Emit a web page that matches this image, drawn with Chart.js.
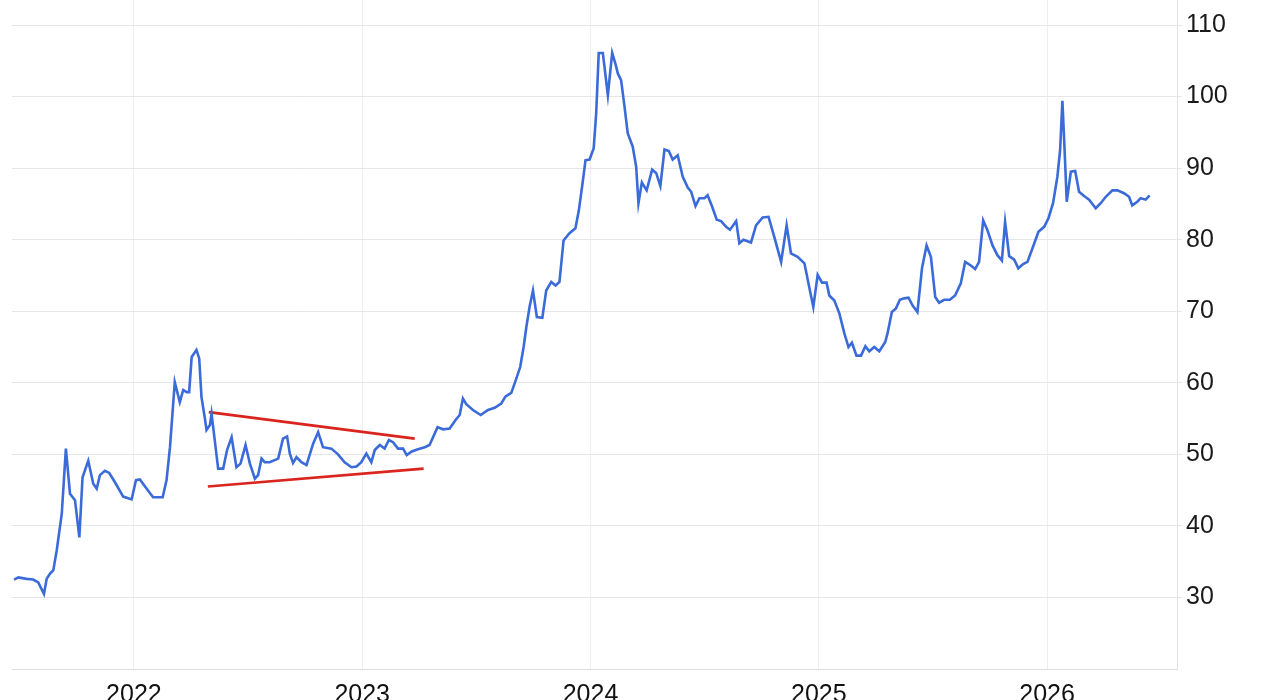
<!DOCTYPE html>
<html>
<head>
<meta charset="utf-8">
<script src="https://cdn.jsdelivr.net/npm/chart.js@4"></script>
<style>
  html, body { margin: 0; padding: 0; background: #fff; }
  #wrap { width: 1280px; height: 700px; overflow: hidden; }
</style>
</head>
<body>
<div id="wrap"><canvas id="grafico" width="1280" height="712"></canvas></div>
<script>
// datas em anos decimais
const datas = [
  2021.475,2021.494,2021.530,2021.559,2021.581,2021.606,2021.618,2021.632,2021.647,2021.662,
  2021.684,2021.702,2021.720,2021.742,2021.761,2021.775,2021.800,2021.822,2021.837,2021.851,
  2021.873,2021.892,2021.917,2021.953,2021.990,2022.009,2022.026,2022.056,2022.084,2022.126,
  2022.143,2022.158,2022.179,2022.201,2022.216,2022.231,2022.242,2022.253,2022.274,2022.286,
  2022.296,2022.311,2022.318,2022.333,2022.340,2022.354,2022.369,2022.391,2022.408,2022.428,
  2022.449,2022.467,2022.489,2022.508,2022.530,2022.544,2022.559,2022.573,2022.595,2022.632,
  2022.653,2022.671,2022.683,2022.697,2022.712,2022.734,2022.756,2022.785,2022.807,2022.828,
  2022.865,2022.894,2022.923,2022.953,2022.975,2022.996,2023.018,2023.040,2023.055,2023.077,
  2023.098,2023.117,2023.135,2023.157,2023.179,2023.195,2023.217,2023.244,2023.274,2023.295,
  2023.330,2023.354,2023.383,2023.409,2023.427,2023.441,2023.456,2023.485,2023.519,2023.551,
  2023.580,2023.609,2023.628,2023.653,2023.672,2023.692,2023.707,2023.719,2023.733,2023.748,
  2023.765,2023.789,2023.806,2023.828,2023.847,2023.864,2023.882,2023.908,2023.934,2023.949,
  2023.966,2023.978,2023.996,2024.014,2024.025,2024.036,2024.054,2024.076,2024.095,2024.109,
  2024.120,2024.134,2024.149,2024.163,2024.185,2024.200,2024.210,2024.225,2024.246,2024.270,
  2024.288,2024.306,2024.324,2024.343,2024.360,2024.382,2024.404,2024.426,2024.441,2024.460,
  2024.477,2024.499,2024.513,2024.533,2024.553,2024.572,2024.594,2024.611,2024.638,2024.652,
  2024.670,2024.703,2024.725,2024.754,2024.780,2024.805,2024.835,2024.859,2024.878,2024.907,
  2024.937,2024.958,2024.976,2024.995,2025.014,2025.034,2025.046,2025.068,2025.090,2025.112,
  2025.130,2025.145,2025.165,2025.185,2025.204,2025.221,2025.243,2025.265,2025.291,2025.301,
  2025.320,2025.338,2025.355,2025.374,2025.393,2025.411,2025.432,2025.452,2025.472,2025.491,
  2025.510,2025.527,2025.549,2025.574,2025.597,2025.622,2025.641,2025.666,2025.685,2025.702,
  2025.720,2025.739,2025.761,2025.783,2025.802,2025.816,2025.834,2025.856,2025.874,2025.895,
  2025.914,2025.936,2025.962,2025.987,2026.006,2026.026,2026.045,2026.057,2026.067,2026.076,
  2026.086,2026.104,2026.123,2026.140,2026.162,2026.184,2026.213,2026.235,2026.257,2026.286,
  2026.308,2026.337,2026.359,2026.373,2026.395,2026.410,2026.432,2026.449
];
const valores = [
  32.5,32.8,32.6,32.5,32.1,30.5,32.6,33.3,33.8,36.6,
  41.7,50.8,44.5,43.6,38.4,46.8,49.1,45.9,45.2,47.1,
  47.7,47.4,46.1,44.1,43.7,46.4,46.5,45.2,44.0,44.0,
  46.4,51.0,60.1,57.3,59.0,58.7,58.7,63.6,64.6,63.4,
  58.0,55.0,53.4,54.1,55.7,52.0,48.0,48.0,50.6,52.4,
  48.2,48.7,51.3,48.7,46.6,47.1,49.4,48.9,48.9,49.4,
  52.2,52.5,50.1,48.8,49.6,48.9,48.5,51.5,53.1,51.0,
  50.8,50.0,48.9,48.2,48.3,48.9,50.1,48.9,50.6,51.3,
  50.8,52.0,51.7,50.8,50.8,49.9,50.4,50.7,51.0,51.3,
  53.8,53.5,53.6,54.8,55.5,57.8,57.0,56.2,55.5,56.2,
  56.5,57.1,58.1,58.6,60.3,62.2,65.0,67.8,70.6,72.9,
  69.2,69.1,72.9,74.1,73.6,74.1,79.9,80.9,81.6,84.1,
  88.1,91.1,91.2,92.8,97.7,106.1,106.1,100.2,106.1,104.6,
  103.2,102.3,98.6,94.9,93.0,90.2,85.1,88.0,86.9,89.8,
  89.3,87.5,92.6,92.4,91.2,91.8,88.8,87.3,86.7,84.7,
  85.8,85.8,86.2,84.6,82.8,82.6,81.8,81.4,82.6,79.5,
  80.0,79.6,82.0,83.1,83.2,80.4,76.9,82.0,78.1,77.6,
  76.7,73.4,70.6,75.1,74.0,74.0,72.2,71.5,69.7,66.9,
  65.0,65.6,63.8,63.8,65.1,64.4,65.0,64.4,65.7,66.9,
  69.9,70.4,71.6,71.8,71.9,70.8,69.9,76.0,79.2,77.6,
  72.0,71.2,71.6,71.6,72.2,73.9,76.9,76.4,75.9,76.9,
  82.7,81.3,79.2,77.8,77.1,82.5,77.7,77.2,76.0,76.6,
  76.9,78.8,81.1,81.8,83.0,85.1,88.8,92.5,99.4,93.0,
  85.3,89.5,89.6,86.7,86.1,85.6,84.4,85.1,86.0,86.9,
  86.9,86.5,86.0,84.8,85.3,85.8,85.6,86.2
];

// linhas de tendência (triângulo)
const linhaSuperiorX = [2022.328, 2023.230];
const linhaSuperiorY = [55.9, 52.2];
const linhaInferiorX = [2022.324, 2023.269];
const linhaInferiorY = [45.5, 48.0];

const anosEixo = [2022, 2023, 2024, 2025, 2026];
const valoresEixo = [30, 40, 50, 60, 70, 80, 90, 100, 110];

const fonte = { family: "'Liberation Sans', Arial, Helvetica, sans-serif", size: 25 };

function pontos(xs, ys) {
  return xs.map((x, i) => ({ x: x, y: ys[i] }));
}

const ctx = document.getElementById("grafico").getContext("2d");

new Chart(ctx, {
  type: "line",
  data: {
    datasets: [
      {
        data: pontos(datas, valores),
        borderColor: "#3a6bd9",
        borderWidth: 2.6,
        pointRadius: 0,
        tension: 0,
        fill: false,
      },
      {
        data: pontos(linhaSuperiorX, linhaSuperiorY),
        borderColor: "#d9251d",
        borderWidth: 2.6,
        pointRadius: 0,
        fill: false,
      },
      {
        data: pontos(linhaInferiorX, linhaInferiorY),
        borderColor: "#d9251d",
        borderWidth: 2.6,
        pointRadius: 0,
        fill: false,
      },
    ],
  },
  options: {
    responsive: false,
    animation: false,
    layout: { padding: { left: 12, top: 0, right: 0, bottom: 0 } },
    plugins: {
      legend: { display: false },
      tooltip: { enabled: false },
    },
    scales: {
      x: {
        type: "linear",
        min: 2021.466,
        max: 2026.569,
        afterBuildTicks: (s) => { s.ticks = anosEixo.map(v => ({ value: v })); },
        afterFit: (s) => { s.height = 43; s.paddingLeft = 0; s.paddingRight = 0; },
        grid: { color: "#eeeeee", drawTicks: false },
        border: { color: "#dddddd" },
        ticks: {
          padding: 11,
          color: "#111111",
          font: fonte,
          maxRotation: 0,
          callback: (v) => String(v),
        },
      },
      y: {
        position: "right",
        min: 20,
        max: 113.5,
        afterBuildTicks: (s) => { s.ticks = valoresEixo.map(v => ({ value: v })); },
        afterFit: (s) => { s.width = 103; s.paddingTop = 0; s.paddingBottom = 0; },
        grid: { color: "#e6e6e6", tickLength: 5 },
        border: { color: "#e3e3e3" },
        ticks: {
          padding: 4,
          color: "#1a1a1a",
          font: fonte,
          callback: (v) => String(v),
        },
      },
    },
  },
});
</script>
</body>
</html>
